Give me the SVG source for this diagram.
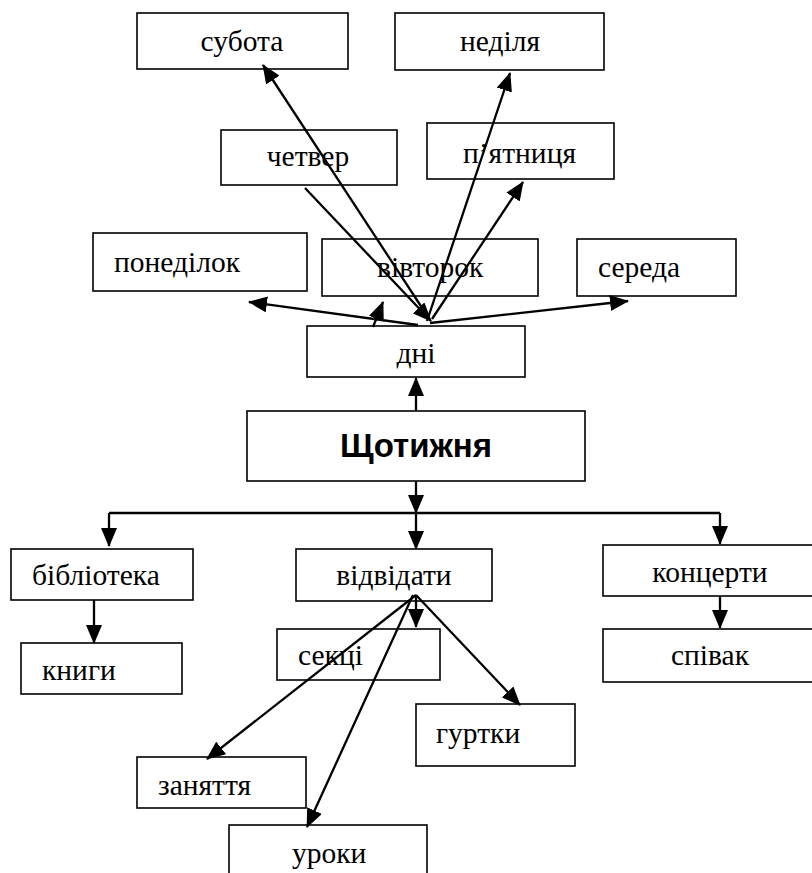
<svg xmlns="http://www.w3.org/2000/svg" width="812" height="873" viewBox="0 0 812 873">
<style>
.box{fill:#fff;stroke:#000;stroke-width:1.6}
.t{font-family:"Liberation Serif","Times New Roman",serif;font-size:29.5px;fill:#000}
.m{text-anchor:middle}
.b{font-family:"Liberation Sans",Arial,sans-serif;font-size:33px;font-weight:bold;fill:#000;text-anchor:middle}
.c{fill:none;stroke:#000;stroke-width:2.3}
</style>
<defs>
<marker id="ah" markerUnits="userSpaceOnUse" markerWidth="19" markerHeight="16" viewBox="0 0 19 16" refX="18" refY="8" orient="auto">
<path d="M0,0 L19,8 L0,16 z" fill="#000"/>
</marker>
</defs>
<rect width="812" height="873" fill="#fff"/>
<g id="n-subota"><rect class="box" x="137" y="13" width="211" height="56"/><text class="t m" x="242" y="51">субота</text></g>
<g id="n-nedilia"><rect class="box" x="395" y="13" width="209" height="57"/><text class="t m" x="500" y="51">неділя</text></g>
<g id="n-chetver"><rect class="box" x="221" y="130" width="176" height="55"/><text class="t m" x="308" y="166">четвер</text></g>
<g id="n-piatnytsia"><rect class="box" x="427" y="123" width="187" height="56"/><text class="t" x="463" y="163">п’ятниця</text></g>
<g id="n-ponedilok"><rect class="box" x="93" y="233" width="214" height="58"/><text class="t" x="114" y="272">понеділок</text></g>
<g id="n-vivtorok"><rect class="box" x="322" y="239" width="216" height="57"/><text class="t" x="377" y="277">вівторок</text></g>
<g id="n-sereda"><rect class="box" x="577" y="239" width="159" height="57"/><text class="t" x="598" y="277">середа</text></g>
<g id="n-dni"><rect class="box" x="307" y="326" width="218" height="51"/><text class="t m" x="416" y="363">дні</text></g>
<g id="n-shchotyzhnia"><rect class="box" x="247" y="411" width="338" height="70"/><text class="b" x="416" y="457">Щотижня</text></g>
<g id="n-biblioteka"><rect class="box" x="11" y="549" width="182" height="51"/><text class="t" x="32" y="585">бібліотека</text></g>
<g id="n-vidvidaty"><rect class="box" x="296" y="549" width="196" height="52"/><text class="t m" x="394" y="585">відвідати</text></g>
<g id="n-kontserty"><rect class="box" x="603" y="545" width="215" height="51"/><text class="t m" x="710" y="582">концерти</text></g>
<g id="n-knyhy"><rect class="box" x="21" y="643" width="161" height="51"/><text class="t" x="42" y="680">книги</text></g>
<g id="n-sektsii"><rect class="box" x="277" y="629" width="163" height="51"/><text class="t" x="298" y="665">секці</text></g>
<g id="n-spivak"><rect class="box" x="603" y="629" width="215" height="53"/><text class="t m" x="710" y="665">співак</text></g>
<g id="n-hurtky"><rect class="box" x="416" y="704" width="159" height="62"/><text class="t" x="436" y="743">гуртки</text></g>
<g id="n-zaniattia"><rect class="box" x="137" y="757" width="169" height="51"/><text class="t" x="158" y="795">заняття</text></g>
<g id="n-uroky"><rect class="box" x="229" y="825" width="198" height="60"/><text class="t" x="292" y="863">уроки</text></g>
<g id="connectors" class="c">
<line x1="430" y1="320" x2="263" y2="65" marker-end="url(#ah)"/>
<line x1="305" y1="188" x2="431" y2="321" marker-end="url(#ah)"/>
<line x1="427" y1="321" x2="510" y2="73" marker-end="url(#ah)"/>
<line x1="432" y1="319" x2="523" y2="182" marker-end="url(#ah)"/>
<line x1="418" y1="325" x2="249" y2="302" marker-end="url(#ah)"/>
<line x1="430" y1="323" x2="628" y2="301" marker-end="url(#ah)"/>
<line x1="373" y1="327" x2="383" y2="302" marker-end="url(#ah)"/>
<line x1="416" y1="411" x2="416" y2="378" marker-end="url(#ah)"/>
<line x1="416" y1="481" x2="416" y2="513" marker-end="url(#ah)"/>
<line x1="416" y1="513" x2="416" y2="549" marker-end="url(#ah)"/>
<polyline points="109,513 720,513"/>
<line x1="109" y1="513" x2="109" y2="546" marker-end="url(#ah)"/>
<line x1="720" y1="513" x2="720" y2="544" marker-end="url(#ah)"/>
<line x1="94" y1="600" x2="94" y2="643" marker-end="url(#ah)"/>
<line x1="720" y1="596" x2="720" y2="628" marker-end="url(#ah)"/>
<line x1="416" y1="595" x2="416" y2="627" marker-end="url(#ah)"/>
<line x1="416" y1="595" x2="520" y2="705" marker-end="url(#ah)"/>
<line x1="416" y1="595" x2="207" y2="759" marker-end="url(#ah)"/>
<line x1="413" y1="595" x2="307" y2="827" marker-end="url(#ah)"/>
</g>
</svg>
